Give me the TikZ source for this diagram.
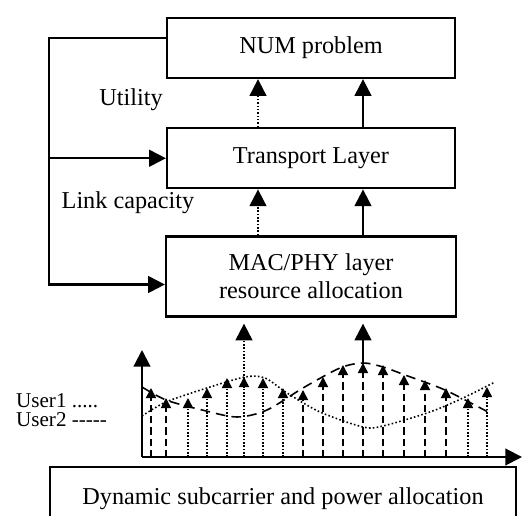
\documentclass[tikz,border=0pt]{standalone}
\usepackage{fontspec}
\setmainfont{Liberation Serif}
\usetikzlibrary{arrows.meta,positioning}

\begin{document}
\begin{tikzpicture}[x=0.02cm,y=-0.02cm,{block/.style={rectangle,draw=black,line width=1.3pt,minimum width=5.76cm,minimum height=1.2cm,align=center,inner sep=0pt,font=\fontsize{13.8}{16}\selectfont}},{link/.style={line width=1.2pt,-{Triangle[length=9.5pt,width=9.5pt]}}},{bar/.style={line width=0.9pt,-{Triangle[length=5.8pt,width=5.8pt]}}},{dotpat/.style={dash pattern=on 0.9pt off 1pt}},{dashpat/.style={dash pattern=on 4pt off 2.4pt}},{lbl/.style={font=\fontsize{13.8}{16}\selectfont}}]
	\useasboundingbox (0,0) rectangle (522,516);
	\clip (0,0) rectangle (522,516);
	%%blocks
	\node[block] (num) at (311,48) {NUM problem};
	\node[block] (trans) [below=0.96cm of num] {Transport Layer};
	\node[block,minimum width=5.8cm,minimum height=1.6cm] (mac) [below=0.92cm of trans] {MAC/PHY layer\\resource allocation};
	\node[block,minimum width=9.32cm,minimum height=1.26cm] (dyn) at (283,498.5) {Dynamic subcarrier and power allocation};
	
	%%columns of the arrows
	\coordinate (dcol) at (258,0);
	\coordinate (scol) at (363,0);
	\draw[link,line width=1.1pt,dotpat] (trans.north -| dcol) -- (num.south -| dcol);
	\draw[link] (trans.north -| scol) -- (num.south -| scol);
	\draw[link,line width=1.1pt,dotpat] (mac.north -| dcol) -- (trans.south -| dcol);
	\draw[link] (mac.north -| scol) -- (trans.south -| scol);
	
	%%feedback
	\coordinate (fbx) at (49,0);
	\coordinate (numout) at ([yshift=0.2cm]num.west);
	\coordinate (macin) at ([yshift=-0.16cm]mac.west);
	\draw[link] (numout) -- (numout -| fbx) -- (macin -| fbx) -- (macin);
	\draw[link] (trans.west -| fbx) -- (trans.west);
	\node[lbl] (util) at (131,100) {Utility};
	\node[lbl] (cap) at (128,203) {Link capacity};
	
	%%axes
	\coordinate (O) at (142,457);
	\draw[link] (O) -- (142,350);
	\draw[link] (O) -- (522,457);
	
	%%channel gains
	\draw[line width=0.9pt,dash pattern=on 5.5pt off 3.5pt] plot[smooth] coordinates {(142,387) (166,400) (202,410) (237,417) (267,410) (303,388) (340,368) (363,363) (383,367) (405,375) (445,390) (488,412)};
	\draw[line width=0.9pt,dash pattern=on 0.9pt off 1.3pt] plot[smooth] coordinates {(142,416) (166,402) (207,388) (245,377) (265,378) (287,393) (320,412) (363,427) (383,426) (430,412) (463,398) (495,382)};
	\foreach \x/\y in {151/388,166/398,303/390,323/377,343/365,363/363,383/365,404/375,425/380,446/388}
		\draw[bar,dashpat] (\x,457) -- (\x,\y);
	\foreach \x/\y in {188/398,207/388,227/378,244/377,263/378,283/388,468/398,487/387}
		\draw[bar,dotpat] (\x,457) -- (\x,\y);
	
	%%to MAC/PHY
	\coordinate (uone) at (244,379);
	\coordinate (utwo) at (363,364);
	\draw[link,line width=1.1pt,dotpat,shorten >=3.4pt] (uone) -- (mac.south -| uone);
	\draw[link,shorten >=3.4pt] (utwo) -- (mac.south -| utwo);
	
	%%legend
	\node[anchor=west,font=\fontsize{12}{14}\selectfont] (uleg1) at (10,401) {User1 .....};
	\node[anchor=west,font=\fontsize{12}{14}\selectfont] (uleg2) at (10,420) {User2 {-}{-}{-}{-}{-}};
\end{tikzpicture}
\end{document}
